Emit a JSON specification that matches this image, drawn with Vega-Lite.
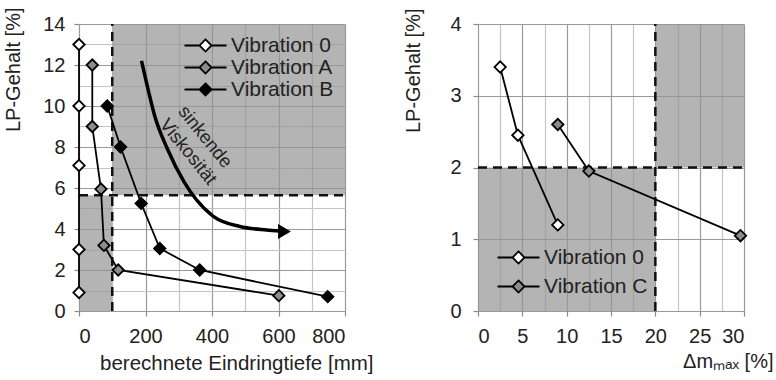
{
  "$schema": "https://vega.github.io/schema/vega-lite/v6.json",
  "background": "white",
  "padding": {"left": 2, "top": 7, "right": 0, "bottom": 0},
  "bounds": "flush",
  "spacing": 133,
  "config": {
    "font": "Liberation Sans",
    "view": {"stroke": null},
    "axis": {
      "labelFont": "Liberation Sans", "labelFontSize": 20, "labelColor": "#222",
      "titleFont": "Liberation Sans", "titleFontSize": 20, "titleFontWeight": "normal", "titleColor": "#222",
      "domain": false, "tickColor": "#8a8a8a", "tickSize": 5, "tickWidth": 1.2, "gridWidth": 1.2
    },
    "legend": {"labelFont": "Liberation Sans", "labelFontSize": 21, "labelColor": "#222"}
  },
  "hconcat": [
    {
      "width": 266,
      "height": 287,
      "encoding": {
        "x": {"field": "x", "type": "quantitative", "scale": {"domain": [0, 800], "nice": false, "zero": false},
          "axis": {"values": [0,100,200,300,400,500,600,700,800],
            "labelExpr": "datum.value % 200 === 0 ? datum.label : ''",
            "gridColor": {"condition": {"test": "datum.value % 200 === 0", "value": "#9a9a9a"}, "value": "#c4c4c4"},
            "tickOpacity": {"condition": {"test": "datum.value % 200 === 0", "value": 1}, "value": 0},
            "labelPadding": 10,
            "title": "berechnete Eindringtiefe [mm]", "titleFontSize": 20.5, "titleAnchor": "end", "titleAlign": "right", "titleBaseline": "alphabetic", "titleX": 294, "titleY": 58}},
        "y": {"field": "y", "type": "quantitative", "scale": {"domain": [0, 14], "nice": false, "zero": false},
          "axis": {"values": [0,1,2,3,4,5,6,7,8,9,10,11,12,13,14],
            "labelExpr": "datum.value % 2 === 0 ? datum.label : ''",
            "gridColor": {"condition": {"test": "datum.value % 2 === 0", "value": "#9a9a9a"}, "value": "#c4c4c4"},
            "tickOpacity": {"condition": {"test": "datum.value % 2 === 0", "value": 1}, "value": 0},
            "labelPadding": 9,
            "title": "LP-Gehalt [%]", "titleAngle": -90, "titleAlign": "right", "titleBaseline": "middle", "titleX": -66, "titleY": -17}}
      },
      "layer": [
        {
          "data": {"values": [{"x": 100, "x2": 800, "y": 5.65, "y2": 14}, {"x": 0, "x2": 100, "y": 0, "y2": 5.65}]},
          "mark": {"type": "rect", "fill": "#949494", "opacity": 0.7},
          "encoding": {"x2": {"field": "x2"}, "y2": {"field": "y2"}}
        },
        {
          "data": {"values": [{"x": 100, "y": 0, "y2": 14}]},
          "mark": {"type": "rule", "color": "#111", "strokeWidth": 2.5, "strokeDash": [9, 6]},
          "encoding": {"y2": {"field": "y2"}}
        },
        {
          "data": {"values": [{"x": 0, "x2": 800, "y": 5.65}]},
          "mark": {"type": "rule", "color": "#111", "strokeWidth": 2.5, "strokeDash": [9, 6]},
          "encoding": {"x2": {"field": "x2"}}
        },
        {
          "data": {"values": [
            {"x": 188, "y": 12.2}, {"x": 205, "y": 11}, {"x": 228, "y": 9.5}, {"x": 266, "y": 7.9},
            {"x": 316, "y": 6.3}, {"x": 352, "y": 5.45}, {"x": 404, "y": 4.62}, {"x": 484, "y": 4.12},
            {"x": 564, "y": 3.95}, {"x": 605, "y": 3.9}
          ]},
          "mark": {"type": "line", "color": "#000", "strokeWidth": 3.5, "interpolate": "monotone"},
          "encoding": {}
        },
        {
          "data": {"values": [{"x": 618, "y": 3.88}]},
          "mark": {"type": "point", "shape": "triangle-right", "filled": true, "color": "#000", "size": 220, "opacity": 1},
          "encoding": {}
        },
        {
          "data": {"values": [{"x": 380, "y": 8.5, "t": "sinkende"}, {"x": 329, "y": 7.78, "t": "Viskosität"}]},
          "mark": {"type": "text", "angle": 51, "fontSize": 18.5, "color": "#222", "align": "center", "baseline": "middle"},
          "encoding": {"text": {"field": "t"}}
        },
        {
          "data": {"name": "left"},
          "mark": {"type": "line", "color": "#000", "strokeWidth": 1.8},
          "encoding": {"detail": {"field": "series"}, "order": {"field": "y", "sort": "descending"}}
        },
        {
          "data": {"name": "left"},
          "mark": {"type": "point", "shape": "diamond", "filled": true, "size": 130, "stroke": "#000", "strokeWidth": 1.8, "opacity": 1},
          "encoding": {
            "fill": {"field": "series", "type": "nominal",
              "scale": {"domain": ["Vibration 0", "Vibration A", "Vibration B"], "range": ["#ffffff", "#8c8c8c", "#000000"]},
              "legend": {"orient": "none", "legendX": 116, "legendY": 11, "title": null,
                "symbolType": "M-3,0L-0.86,0M0.86,0L3,0M0,-0.86L0.86,0L0,0.86L-0.86,0Z",
                "symbolSize": 196, "symbolStrokeColor": "#000", "symbolStrokeWidth": 1.8,
                "labelOffset": 15, "rowPadding": 0}}
          }
        }
      ]
    },
    {
      "width": 266,
      "height": 287,
      "encoding": {
        "x": {"field": "x", "type": "quantitative", "scale": {"domain": [0, 30], "nice": false, "zero": false},
          "axis": {"values": [0,2.5,5,7.5,10,12.5,15,17.5,20,22.5,25,27.5,30],
            "labelExpr": "datum.value % 5 === 0 ? datum.label : ''",
            "gridColor": {"condition": {"test": "datum.value % 5 === 0", "value": "#9a9a9a"}, "value": "#c4c4c4"},
            "tickOpacity": {"condition": {"test": "datum.value % 5 === 0", "value": 1}, "value": 0},
            "labelPadding": 10,
            "title": "Δmₘₐₓ [%]", "titleAnchor": "end", "titleAlign": "right", "titleBaseline": "alphabetic", "titleX": 295, "titleY": 56}},
        "y": {"field": "y", "type": "quantitative", "scale": {"domain": [0, 4], "nice": false, "zero": false},
          "axis": {"values": [0,0.25,0.5,0.75,1,1.25,1.5,1.75,2,2.25,2.5,2.75,3,3.25,3.5,3.75,4],
            "format": "d",
            "labelExpr": "datum.value % 1 === 0 ? datum.label : ''",
            "gridColor": {"condition": {"test": "datum.value % 1 === 0", "value": "#9a9a9a"}, "value": "#c4c4c4"},
            "tickOpacity": {"condition": {"test": "datum.value % 1 === 0", "value": 1}, "value": 0},
            "labelPadding": 12,
            "title": "LP-Gehalt [%]", "titleAngle": -90, "titleAlign": "right", "titleBaseline": "middle", "titleX": -65, "titleY": -16}}
      },
      "layer": [
        {
          "data": {"values": [{"x": 0, "x2": 20, "y": 0, "y2": 2}, {"x": 20, "x2": 30, "y": 2, "y2": 4}]},
          "mark": {"type": "rect", "fill": "#949494", "opacity": 0.7},
          "encoding": {"x2": {"field": "x2"}, "y2": {"field": "y2"}}
        },
        {
          "data": {"values": [{"x": 20, "y": 0, "y2": 4}]},
          "mark": {"type": "rule", "color": "#111", "strokeWidth": 2.5, "strokeDash": [9, 6]},
          "encoding": {"y2": {"field": "y2"}}
        },
        {
          "data": {"values": [{"x": 0, "x2": 30, "y": 2}]},
          "mark": {"type": "rule", "color": "#111", "strokeWidth": 2.5, "strokeDash": [9, 6]},
          "encoding": {"x2": {"field": "x2"}}
        },
        {
          "data": {"name": "right"},
          "mark": {"type": "line", "color": "#000", "strokeWidth": 1.8},
          "encoding": {"detail": {"field": "series"}, "order": {"field": "y", "sort": "descending"}}
        },
        {
          "data": {"name": "right"},
          "mark": {"type": "point", "shape": "diamond", "filled": true, "size": 130, "stroke": "#000", "strokeWidth": 1.8, "opacity": 1},
          "encoding": {
            "fill": {"field": "series", "type": "nominal",
              "scale": {"domain": ["Vibration 0", "Vibration C"], "range": ["#ffffff", "#8c8c8c"]},
              "legend": {"orient": "none", "legendX": 30, "legendY": 223, "title": null,
                "symbolType": "M-3,0L-0.86,0M0.86,0L3,0M0,-0.86L0.86,0L0,0.86L-0.86,0Z",
                "symbolSize": 196, "symbolStrokeColor": "#000", "symbolStrokeWidth": 1.8,
                "labelOffset": 15, "rowPadding": 7}}
          }
        }
      ],
      "resolve": {"scale": {"fill": "independent"}}
    }
  ],
  "resolve": {"scale": {"fill": "independent", "x": "independent", "y": "independent"}},
  "datasets": {
    "left": [
      {"series": "Vibration 0", "x": 0, "y": 13},
      {"series": "Vibration 0", "x": 0, "y": 10},
      {"series": "Vibration 0", "x": 0, "y": 7.1},
      {"series": "Vibration 0", "x": 0, "y": 3},
      {"series": "Vibration 0", "x": 0, "y": 0.9},
      {"series": "Vibration A", "x": 40, "y": 12},
      {"series": "Vibration A", "x": 40, "y": 9},
      {"series": "Vibration A", "x": 66, "y": 5.95},
      {"series": "Vibration A", "x": 75, "y": 3.2},
      {"series": "Vibration A", "x": 118, "y": 2},
      {"series": "Vibration A", "x": 601, "y": 0.75},
      {"series": "Vibration B", "x": 85, "y": 10},
      {"series": "Vibration B", "x": 125, "y": 8},
      {"series": "Vibration B", "x": 187, "y": 5.25},
      {"series": "Vibration B", "x": 243, "y": 3.05},
      {"series": "Vibration B", "x": 363, "y": 2},
      {"series": "Vibration B", "x": 748, "y": 0.7}
    ],
    "right": [
      {"series": "Vibration 0", "x": 2.5, "y": 3.4},
      {"series": "Vibration 0", "x": 4.5, "y": 2.45},
      {"series": "Vibration 0", "x": 9, "y": 1.2},
      {"series": "Vibration C", "x": 9, "y": 2.6},
      {"series": "Vibration C", "x": 12.5, "y": 1.95},
      {"series": "Vibration C", "x": 29.6, "y": 1.05}
    ]
  }
}
